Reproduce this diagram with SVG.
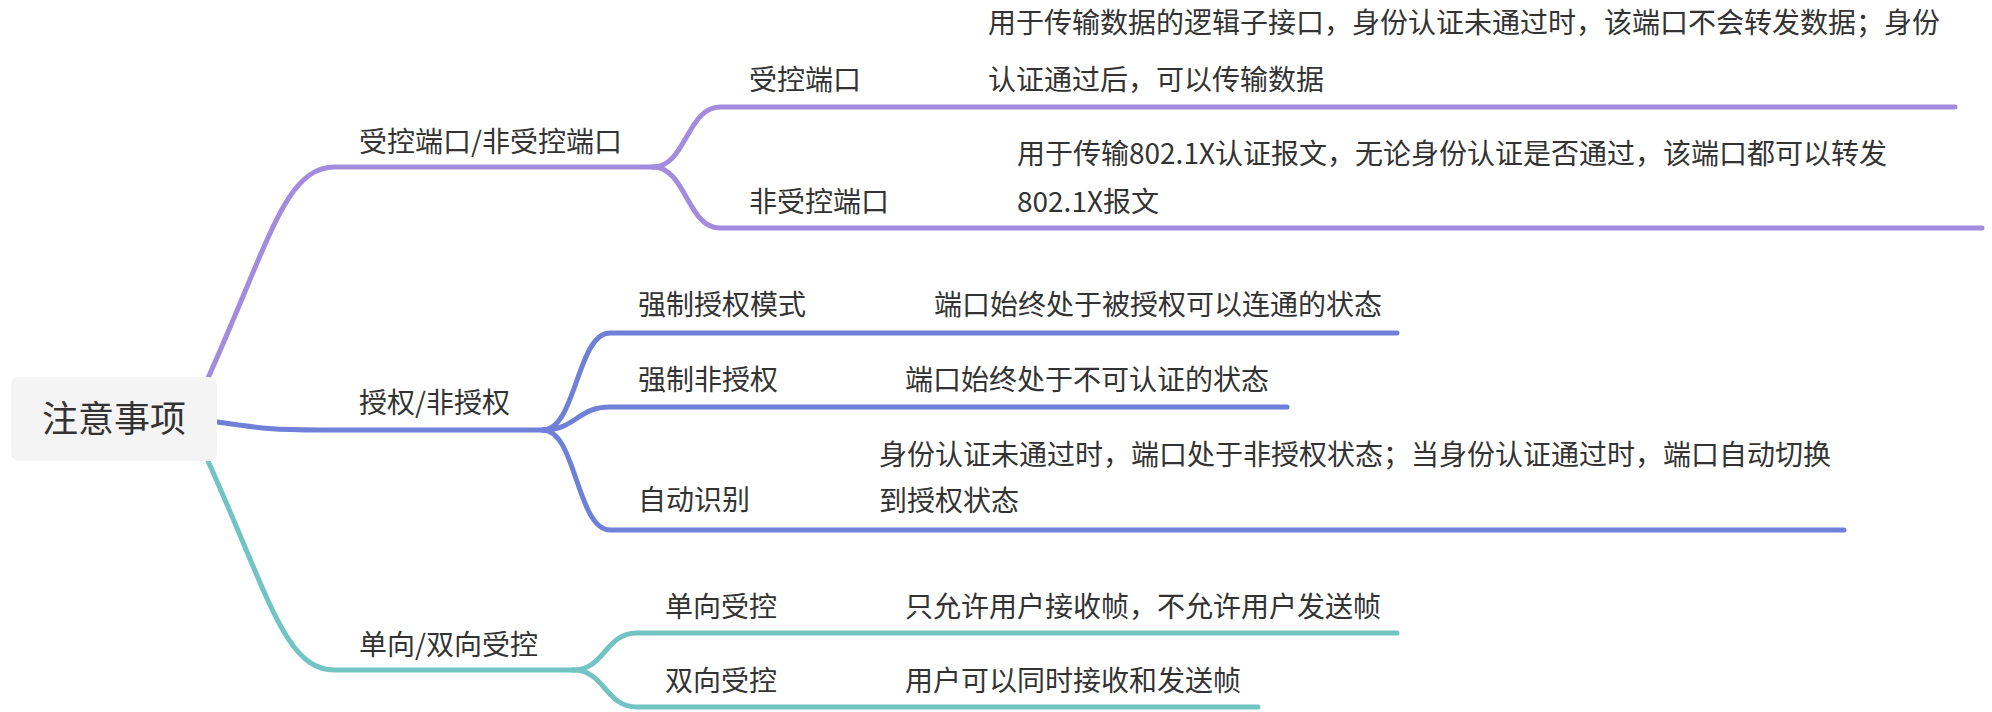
<svg xmlns="http://www.w3.org/2000/svg" width="1992" height="712" viewBox="0 0 1992 712">
<style>
  .t { font-family: "Noto Sans CJK SC", "Noto Sans", sans-serif; font-size: 28px; fill: #333333; }
  .root { font-family: "Noto Sans CJK SC", "Noto Sans", sans-serif; font-size: 36px; fill: #333333; }
  .ln { fill: none; stroke-width: 5; stroke-linecap: round; stroke-linejoin: round; }
  .p { stroke: #A38CDD; }
  .b { stroke: #6E80D8; }
  .g { stroke: #72C4C3; }
</style>
<rect width="1992" height="712" fill="#ffffff"/>
<g id="connectors">
  <path class="ln p" d="M208,378 C270,240 285,167 335,167 L653,167"/>
  <path class="ln p" d="M653,167 C686,167 687,107 720,107 L1955,107"/>
  <path class="ln p" d="M653,167 C686,167 687,228 720,228 L1982,228"/>
  <path class="ln b" d="M217,422 C260,428 270,430 320,430 L543,430"/>
  <path class="ln b" d="M543,430 C576,430 577,333 610,333 L1397,333"/>
  <path class="ln b" d="M543,430 C576,430 577,407 610,407 L1287,407"/>
  <path class="ln b" d="M543,430 C576,430 577,530 610,530 L1844,530"/>
  <path class="ln g" d="M208,461 C270,599 285,670 335,670 L573,670"/>
  <path class="ln g" d="M573,670 C605,670 605,633 637,633 L1397,633"/>
  <path class="ln g" d="M573,670 C605,670 605,707 637,707 L1258,707"/>
</g>
<g id="root">
  <rect x="11" y="377" width="206" height="84" rx="8" fill="#F4F4F4"/>
  <text class="root" x="114" y="432" text-anchor="middle">注意事项</text>
</g>
<g id="n-port">
  <text class="t" x="359" y="152">受控端口/非受控端口</text>
</g>
<g id="n-controlled">
  <text class="t" x="749" y="90">受控端口</text>
</g>
<g id="n-controlled-desc">
  <text class="t" x="988" y="33">用于传输数据的逻辑子接口，身份认证未通过时，该端口不会转发数据；身份</text>
  <text class="t" x="988" y="90">认证通过后，可以传输数据</text>
</g>
<g id="n-uncontrolled">
  <text class="t" x="749" y="212">非受控端口</text>
</g>
<g id="n-uncontrolled-desc">
  <text class="t" x="1017" y="164">用于传输802.1X认证报文，无论身份认证是否通过，该端口都可以转发</text>
  <text class="t" x="1017" y="212">802.1X报文</text>
</g>
<g id="n-auth">
  <text class="t" x="359" y="413">授权/非授权</text>
</g>
<g id="n-force-auth">
  <text class="t" x="638" y="315">强制授权模式</text>
</g>
<g id="n-force-auth-desc">
  <text class="t" x="934" y="315">端口始终处于被授权可以连通的状态</text>
</g>
<g id="n-force-unauth">
  <text class="t" x="638" y="390">强制非授权</text>
</g>
<g id="n-force-unauth-desc">
  <text class="t" x="905" y="390">端口始终处于不可认证的状态</text>
</g>
<g id="n-auto">
  <text class="t" x="638" y="510">自动识别</text>
</g>
<g id="n-auto-desc">
  <text class="t" x="879" y="465">身份认证未通过时，端口处于非授权状态；当身份认证通过时，端口自动切换</text>
  <text class="t" x="879" y="511">到授权状态</text>
</g>
<g id="n-direction">
  <text class="t" x="359" y="655">单向/双向受控</text>
</g>
<g id="n-one-way">
  <text class="t" x="665" y="617">单向受控</text>
</g>
<g id="n-one-way-desc">
  <text class="t" x="905" y="617">只允许用户接收帧，不允许用户发送帧</text>
</g>
<g id="n-two-way">
  <text class="t" x="665" y="691">双向受控</text>
</g>
<g id="n-two-way-desc">
  <text class="t" x="905" y="691">用户可以同时接收和发送帧</text>
</g>
</svg>
